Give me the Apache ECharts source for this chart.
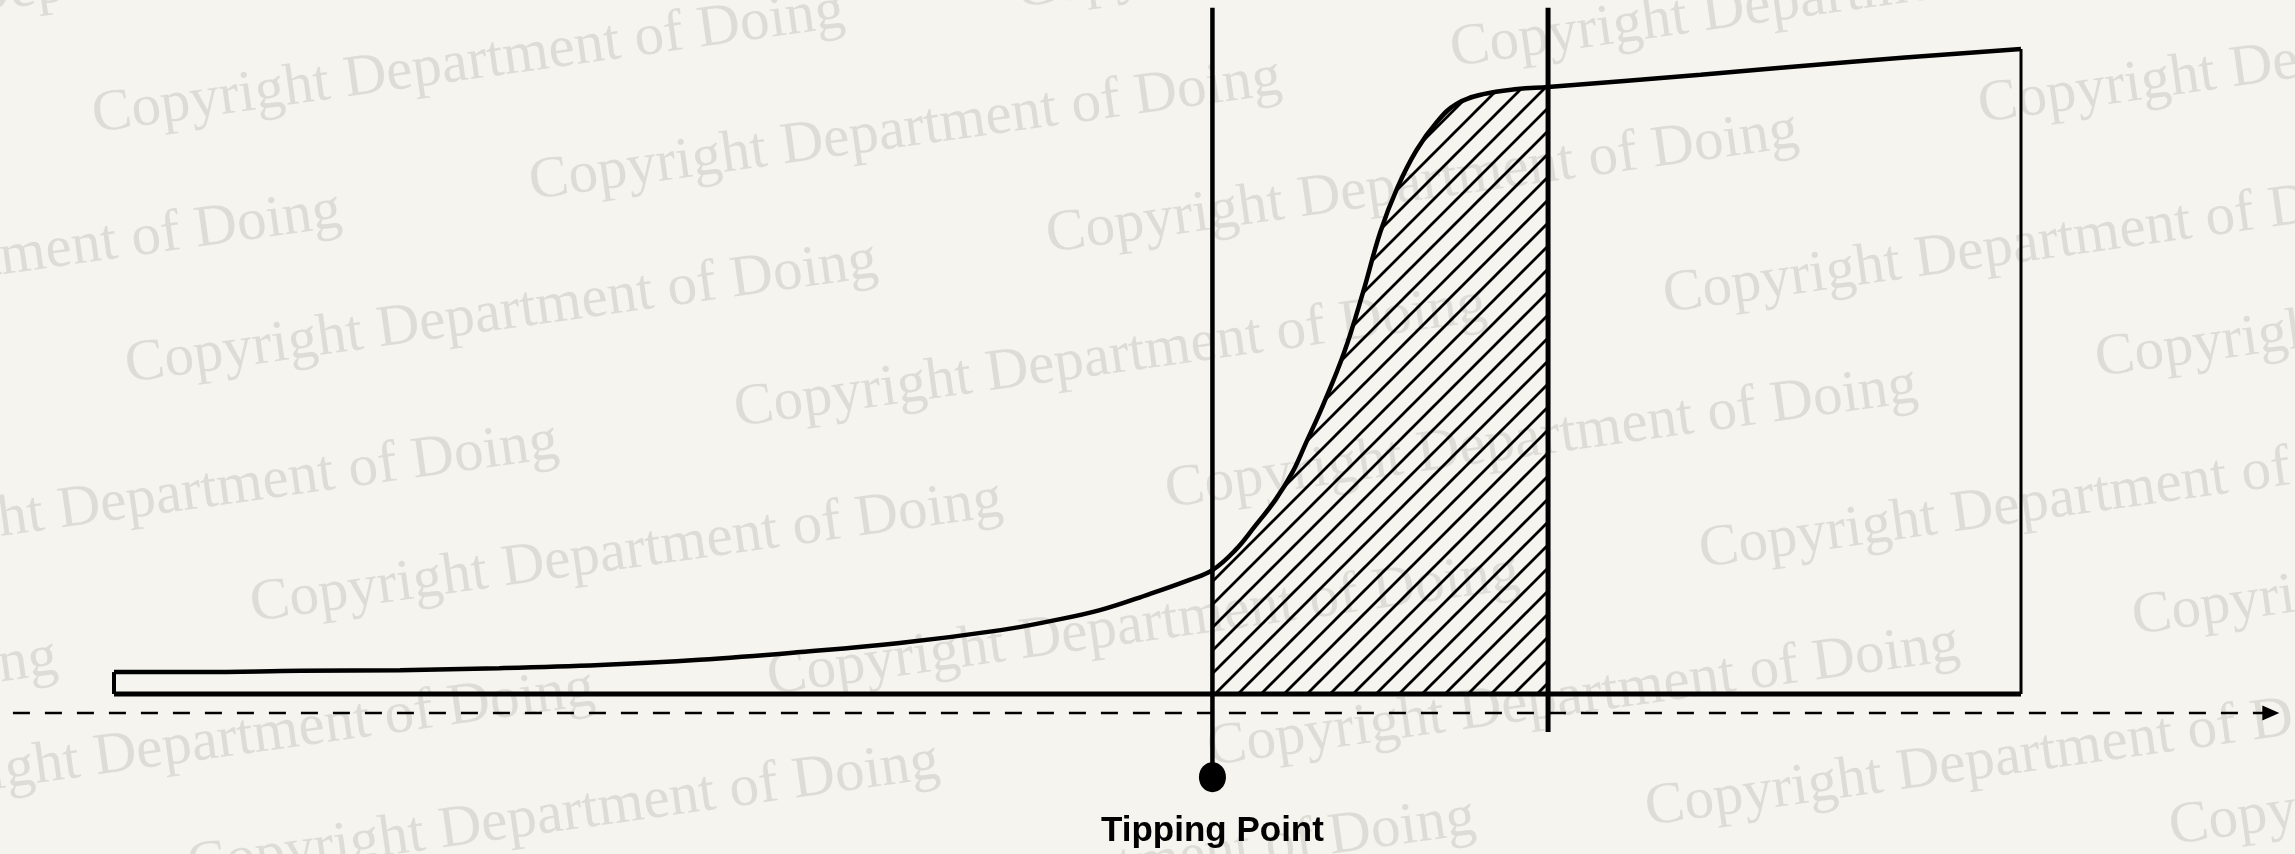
<!DOCTYPE html>
<html>
<head>
<meta charset="utf-8">
<script src="https://cdn.jsdelivr.net/npm/echarts/dist/echarts.min.js"></script>
<style>
html,body{margin:0;padding:0;background:#f5f4ef;}
#chart{width:2295px;height:854px;}
</style>
</head>
<body>
<div id="chart"></div>
<script>
// curve: x = time (0 = left edge, 100 = right edge), y = height above baseline
var curveX = [0, 4.5, 9.8, 15, 20.2, 25.5, 30.7, 36, 41.2, 46.5, 49.1, 51.7, 54.3, 56.4, 57.6,
  58.8, 59.8, 60.9, 61.8, 62.5, 63.4, 64.5, 65.5, 66.4, 67.3, 68.3, 69.4, 70.4, 71.8, 73.6, 75.2,
  83.2, 91, 100];
var curveY = [3.4, 3.4, 3.6, 3.7, 4.0, 4.5, 5.3, 6.5, 7.9, 9.9, 11.3, 13.0, 15.5, 17.7, 19.2,
  22.3, 25.9, 30.1, 34.4, 38.9, 44.8, 52.9, 62.3, 71.6, 78.5, 84.3, 88.8, 91.5, 93.0, 93.8, 94.1,
  96.0, 98.0, 100];

var tippingX = 57.6;      // tipping point
var secondX = 75.2;       // second marker
var guideTop = 106.4;
var tippingBottom = -12.9;
var secondBottom = -5.9;
var axisY = -2.95;
var axisStart = -5.3;
var axisEnd = 112.9;
var arrowX = 113.1;
var tippingLabel = 'Tipping Point';

var wmText = 'Copyright Department of Doing';
var wmPos = [[-282,50],[95,133],[532,200],[1018,8],[1453,67],[1981,123],
  [-408,333],[128,383],[1049,253],[1666,313],[2098,377],
  [737,427],[1168,508],[-191,564],[253,622],[1702,568],[2135,635],
  [770,695],[-692,780],[-155,811],[1210,766],[1648,826],[2172,845],
  [190,884],[726,940]];

// where the 0..100 box sits on the page
var W = 2295, H = 854;
var PX_X0 = 114, PX_X100 = 2021, PX_Y0 = 694, PX_Y100 = 49;
var kx = (PX_X100 - PX_X0) / 100, ky = (PX_Y0 - PX_Y100) / 100;

var curve = curveX.map(function (x, i) { return [x, curveY[i]]; });
var hatchData = curve.filter(function (p) { return p[0] >= tippingX && p[0] <= secondX; });

function hatch(s, lw) {
  var c = document.createElement('canvas');
  c.width = s; c.height = s;
  var ctx = c.getContext('2d');
  ctx.strokeStyle = '#000';
  ctx.lineWidth = lw;
  ctx.beginPath();
  [-s, 0, s].forEach(function (o) {
    ctx.moveTo(o - 2, s + 2);
    ctx.lineTo(o + s + 2, -2);
  });
  ctx.stroke();
  return c;
}

function seg(data, width, extra) {
  var s = {
    type: 'line', data: data, symbol: 'none', silent: true, z: 4,
    lineStyle: { color: '#000', width: width }
  };
  for (var k in extra) s[k] = extra[k];
  return s;
}

var chart = echarts.init(document.getElementById('chart'));
chart.setOption({
  backgroundColor: '#f5f4ef',
  animation: false,
  grid: { left: 0, right: 0, top: 0, bottom: 0 },
  xAxis: { type: 'value', show: false, min: -PX_X0 / kx, max: (W - PX_X0) / kx },
  yAxis: { type: 'value', show: false, min: -(H - PX_Y0) / ky, max: PX_Y0 / ky },
  graphic: wmPos.map(function (p) {
    return {
      type: 'text', x: p[0], y: p[1], rotation: 0.14, z: 0, silent: true,
      style: { text: wmText, x: 0, y: 13, font: '59px "Liberation Serif"', fill: '#dddcd7',
        align: 'left', verticalAlign: 'bottom' }
    };
  }),
  series: [
    {
      type: 'line', data: hatchData, symbol: 'none', silent: true, z: 2,
      smooth: 0.4,
      lineStyle: { width: 0 },
      areaStyle: { color: { image: hatch(23, 2.8), repeat: 'repeat' }, opacity: 1 }
    },
    seg(curve, 4.5, { smooth: 0.4, z: 3 }),
    seg([[0, curveY[0]], [0, 0]], 4),
    seg([[0, 0], [100, 0]], 5),
    seg([[100, 0], [100, 100]], 3),
    seg([[tippingX, guideTop], [tippingX, tippingBottom]], 4.5),
    seg([[secondX, guideTop], [secondX, secondBottom]], 5),
    seg([[axisStart, axisY], [axisEnd, axisY]], 2.5, {
      lineStyle: { color: '#000', width: 2.5, type: [17, 15] }
    }),
    {
      type: 'scatter', data: [[arrowX, axisY]], symbol: 'triangle', symbolRotate: -90,
      symbolSize: [15, 17], silent: true, z: 5, itemStyle: { color: '#000', opacity: 1 }
    },
    {
      type: 'scatter', data: [[tippingX, tippingBottom]], symbol: 'circle', symbolSize: [27, 30],
      silent: true, z: 5, itemStyle: { color: '#000', opacity: 1 },
      label: {
        show: true, position: 'bottom', distance: 22, formatter: tippingLabel,
        color: '#000', fontSize: 35, fontWeight: 'bold', fontFamily: '"Liberation Sans", Arial'
      }
    }
  ]
});
</script>
</body>
</html>
